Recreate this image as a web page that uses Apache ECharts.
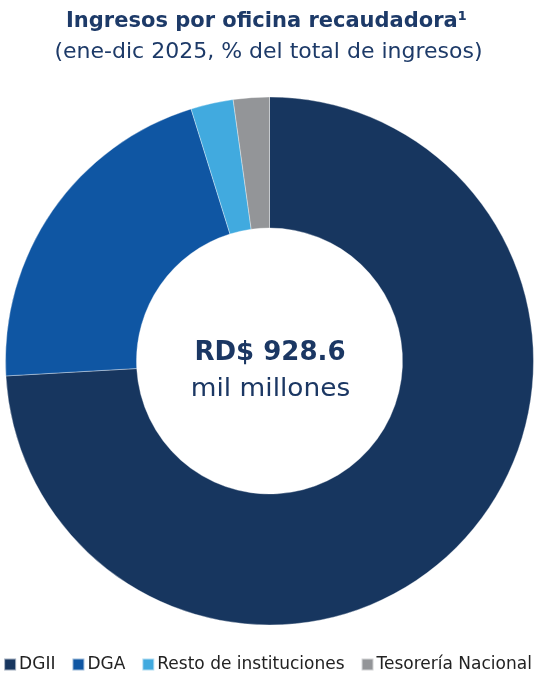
<!DOCTYPE html>
<html>
<head>
<meta charset="utf-8">
<script src="https://cdn.jsdelivr.net/npm/echarts@6/dist/echarts.min.js"></script>
<style>
  html, body { margin: 0; padding: 0; background: #ffffff; }
  #chart { width: 535px; height: 673px; }
</style>
</head>
<body>
<div id="chart"></div>
<script>
// Share of total revenue by collecting office, Jan-Dec 2025 (%)
const categories = ['DGII', 'DGA', 'Resto de instituciones', 'Tesorería Nacional'];
const shares = [74.1, 21.1, 2.6, 2.2];
const colors = ['#17365f', '#0f56a3', '#41aadf', '#939598'];
const titleText = 'Ingresos por oficina recaudadora¹';
const subtitleText = '(ene-dic 2025, % del total de ingresos)';
const totalLabel = 'RD$ 928.6';
const totalUnit = 'mil millones';

const FONT = '"DejaVu Sans", "Noto Sans", sans-serif';
const NAVY_TEXT = '#1d3a68';
const chart = echarts.init(document.getElementById('chart'));

function centeredText(text, x, y, font, fill, scaleX) {
  return {
    type: 'text',
    x: x,
    y: y,
    scaleX: scaleX || 1,
    style: { text: text, x: 0, y: 0, font: font, fill: fill, align: 'center', verticalAlign: 'middle' },
    silent: true
  };
}

chart.setOption({
  animation: false,
  color: colors,
  legend: {
    bottom: 0,
    left: 'center',
    width: 535,
    padding: 0,
    icon: 'rect',
    itemWidth: 12,
    itemHeight: 12,
    itemGap: 16,
    data: categories,
    textStyle: { fontFamily: FONT, fontSize: 17, color: '#222222', padding: [0, 0, 0, -2] }
  },
  graphic: [
    centeredText(titleText, 266.5, 22, 'bold 21px ' + FONT, NAVY_TEXT),
    centeredText(subtitleText, 268.5, 52, '22px ' + FONT, NAVY_TEXT),
    centeredText(totalLabel, 270, 353.5, 'bold 26px ' + FONT, '#1b3763'),
    centeredText(totalUnit, 270.5, 389.5, '24px ' + FONT, '#1b3763', 1.1)
  ],
  series: [{
    type: 'pie',
    center: [269.5, 361],
    radius: [133, 264],
    startAngle: 90,
    clockwise: true,
    avoidLabelOverlap: false,
    label: { show: false },
    labelLine: { show: false },
    emphasis: { disabled: true },
    itemStyle: { borderColor: 'rgba(255,255,255,0.6)', borderWidth: 0.6 },
    data: categories.map((name, i) => ({ name, value: shares[i] }))
  }]
});
</script>
</body>
</html>
